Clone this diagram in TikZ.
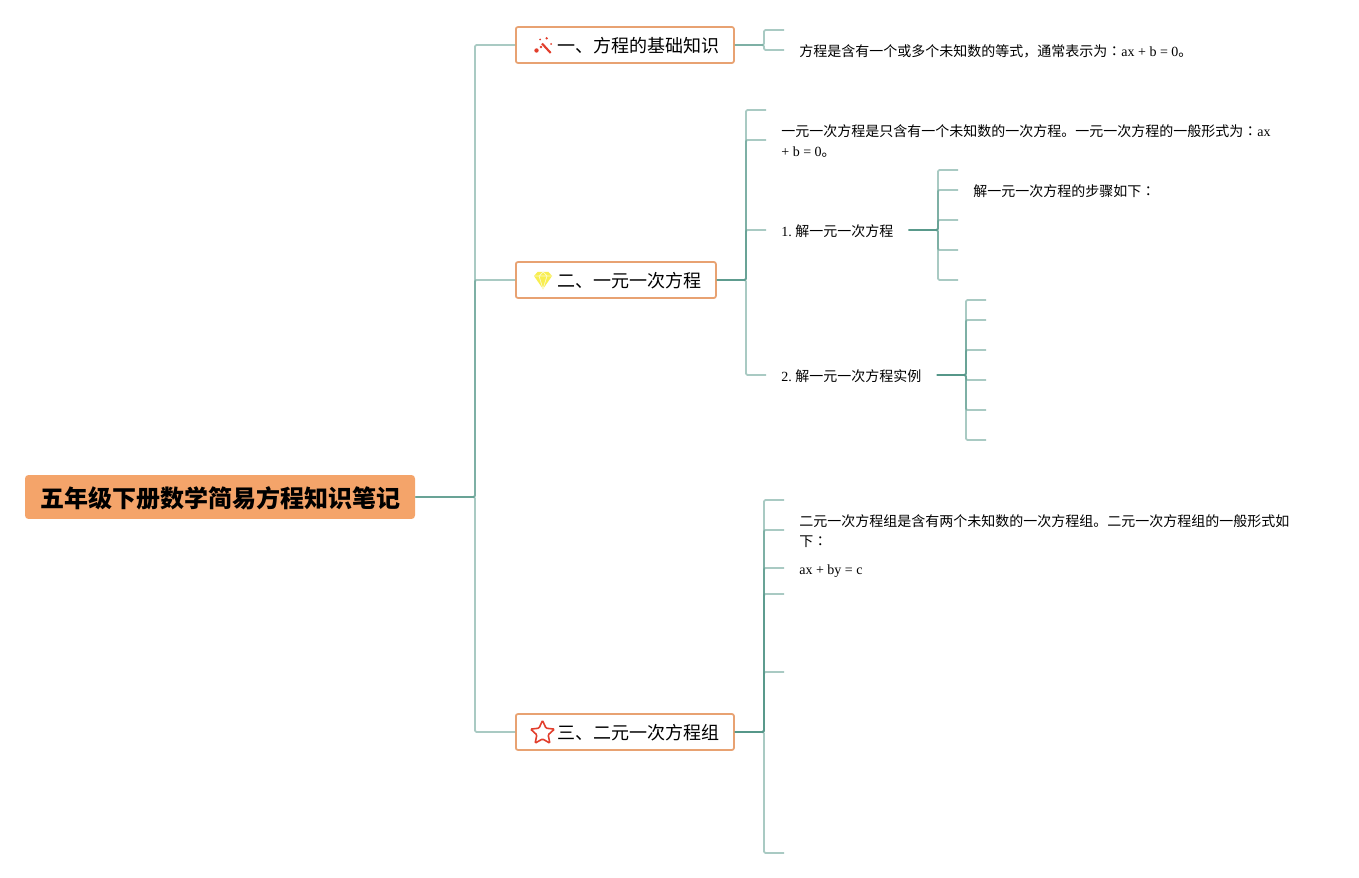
\documentclass[tikz,border=0pt]{standalone}
\usepackage{fontspec}
\usetikzlibrary{shapes.geometric,positioning}
\setmainfont{Liberation Serif}
\newfontfamily\cjk{Noto Sans CJK SC}
\newfontfamily\cjkp{Noto Sans CJK TC}
\definecolor{rootorange}{RGB}{244,164,106}
\definecolor{edgeorange}{RGB}{232,162,114}
\definecolor{tealline}{RGB}{84,150,136}
\definecolor{gemyellow}{RGB}{248,238,80}
\definecolor{iconred}{RGB}{226,62,44}

\begin{document}
\begin{tikzpicture}[
    x=0.02cm, y=-0.02cm,
    rootbox/.style={rectangle, rounded corners=2pt, fill=rootorange, inner xsep=0.3cm, minimum height=0.88cm, text height=12pt, text depth=0.1pt, font=\fontsize{13.66}{16}\cjk\bfseries},
    branch/.style={rectangle, rounded corners=1.2pt, draw=edgeorange, line width=1pt, fill=white, anchor=west, inner xsep=0.29cm, minimum height=0.72cm, text height=9.2pt, text depth=0.3pt, font=\fontsize{10.25}{12}\cjk},
    txt/.style={anchor=west, inner xsep=0.3cm, inner ysep=0pt, align=left, font=\fontsize{7.97}{11.38}\selectfont},
    leaf/.style={tealline, draw opacity=0.5, line width=1pt, rounded corners=0.8pt}
]
\useasboundingbox (0,0) rectangle (1359,878);

% Root and main branches
\node[rootbox] (root) at (220,497) {五年级下册数学简易方程知识笔记};
\node[branch] (b1) at (515,45) {\hspace{0.54cm}一、方程的基础知识};
\node[branch] (b2) at (515,280) {\hspace{0.54cm}二、一元一次方程};
\node[branch] (b3) at (515,732) {\hspace{0.54cm}三、二元一次方程组};

\coordinate (j0) at (475,497);
\foreach \b in {b1,b2,b3} {
    \draw[leaf] (root.east) -- (j0) |- (\b.west);
}

% Branch 1
\coordinate (j1) at (764,45);
\coordinate (l11) at (784,30);
\node[txt] (t11) at (784,51.5) {{\cjk 方程是含有一个或多个未知数的等式，通常表示为}{\cjkp ：}ax + b = 0{\cjk 。}};
\draw[leaf] (b1.east) -- (j1) |- (l11);
\draw[leaf] (b1.east) -- (j1) |- ([yshift=0.03cm]t11.west);

% Branch 2
\coordinate (j2) at (746,280);
\coordinate (l21) at (766,110);
\node[txt] (t22) at (766,141) {{\cjk 一元一次方程是只含有一个未知数的一次方程。一元一次方程的一般形式为}{\cjkp ：}ax\\+ b = 0{\cjk 。}};
\node[txt] (t23) at (766,231.5) {1.\hspace{2pt}{\cjk 解一元一次方程}};
\node[txt] (t24) at (766,376.5) {2.\hspace{2pt}{\cjk 解一元一次方程实例}};
\draw[leaf] (b2.east) -- (j2) |- (l21);
\draw[leaf] (b2.east) -- (j2) |- ([yshift=0.02cm]t22.west);
\foreach \t in {t23,t24} {
    \draw[leaf] (b2.east) -- (j2) |- ([yshift=0.03cm]\t.west);
}

% Steps under 1.
\coordinate (j3) at (938,230);
\node[txt] (t31) at (958,191.5) {{\cjk 解一元一次方程的步骤如下}{\cjkp ：}};
\draw[leaf] ([yshift=0.03cm]t23.east) -- (j3) |- ([yshift=0.03cm]t31.west);
\foreach \y [count=\n] in {170,220,250,280} {
    \coordinate (l3\n) at (958,\y);
    \draw[leaf] ([yshift=0.03cm]t23.east) -- (j3) |- (l3\n);
}

% Examples under 2.
\coordinate (j4) at (966,375);
\foreach \y [count=\n] in {300,320,350,380,410,440} {
    \coordinate (l4\n) at (986,\y);
    \draw[leaf] ([yshift=0.03cm]t24.east) -- (j4) |- (l4\n);
}

% Branch 3
\coordinate (j5) at (764,732);
\node[txt] (t51) at (784,531) {{\cjk 二元一次方程组是含有两个未知数的一次方程组。二元一次方程组的一般形式如}\\{\cjk 下}{\cjkp ：}};
\node[txt] (t52) at (784,570) {{\cjk\vphantom{解}}ax + by = c};
\draw[leaf] (b3.east) -- (j5) |- ([yshift=0.02cm]t51.west);
\draw[leaf] (b3.east) -- (j5) |- ([yshift=0.04cm]t52.west);
\foreach \y [count=\n] in {500,594,672,853} {
    \coordinate (l5\n) at (784,\y);
    \draw[leaf] (b3.east) -- (j5) |- (l5\n);
}

% Icons
\draw[iconred, line width=1.2pt] (542,43.5) -- (550.7,53);
\fill[iconred] (536.5,50.5) circle (2.2) (541,47) circle (1.4) (540,39.5) circle (1) (546.7,38.3) circle (1.3) (551,44) circle (1);
\fill[gemyellow] (534,276) -- (537.5,272) -- (548.5,272) -- (552,276) -- (543,289) -- cycle;
\draw[white!70!gemyellow, line width=0.4pt] (534,276) -- (552,276) (539,276) -- (543,289) -- (547,276) (539,276) -- (543,272) -- (547,276);
\node[star, star points=5, star point ratio=2.1, draw=iconred, line width=0.9pt, rounded corners=0.6pt, inner sep=0pt, minimum size=0.5cm] (star3) at (542.5,733) {};
\end{tikzpicture}
\end{document}
